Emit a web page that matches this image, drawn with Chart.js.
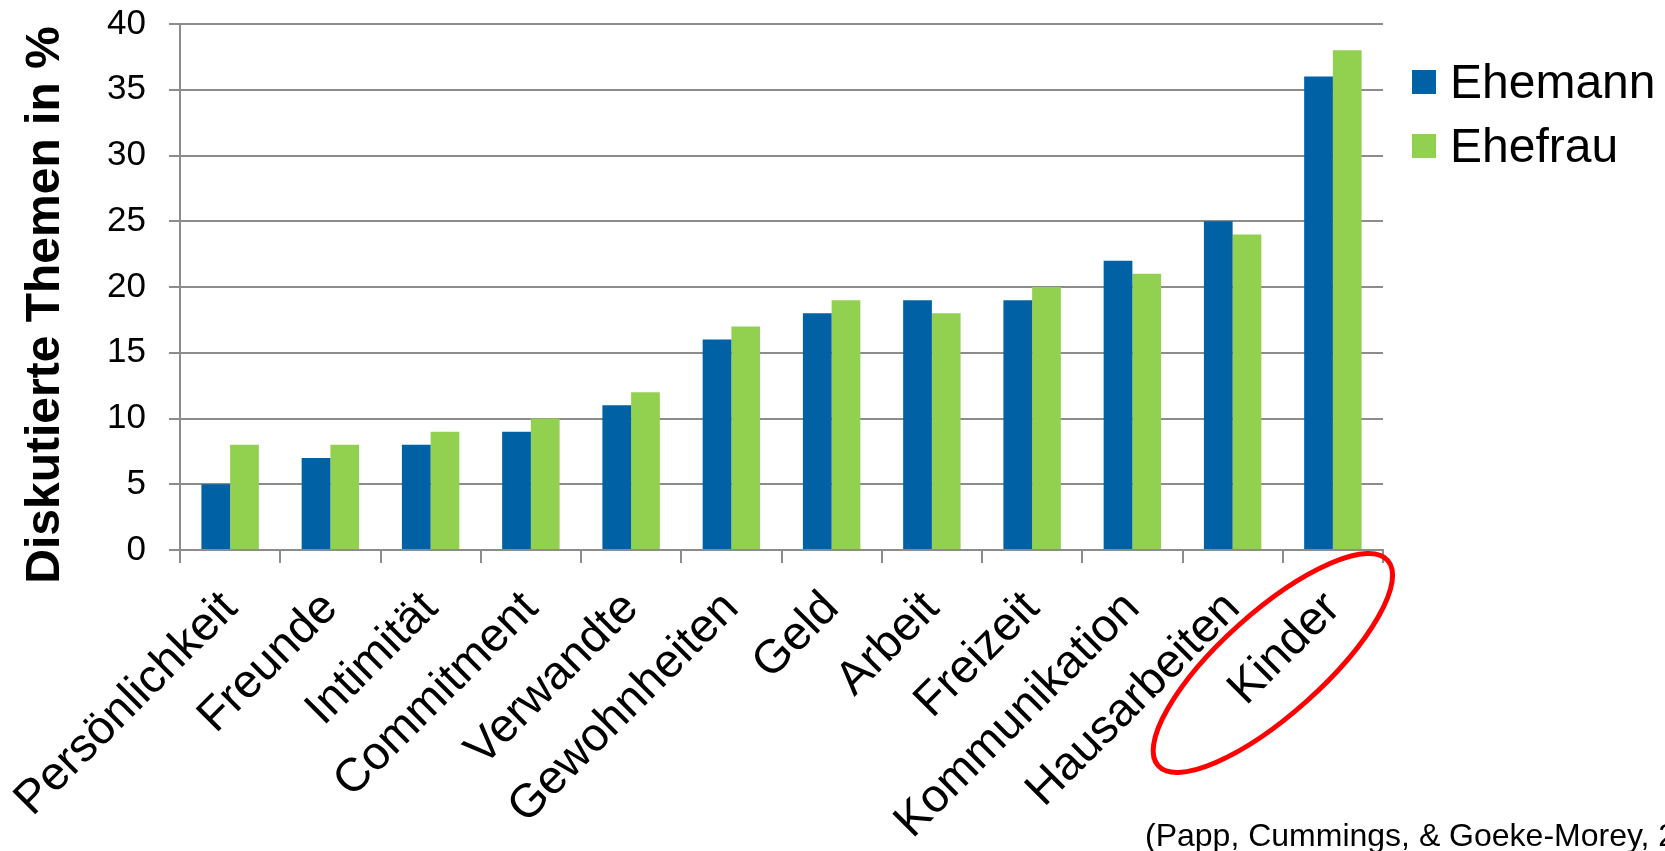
<!DOCTYPE html>
<html lang="de">
<head>
<meta charset="utf-8">
<title>Diskutierte Themen</title>
<script src="https://cdn.jsdelivr.net/npm/chart.js@4/dist/chart.umd.min.js"></script>
<style>
    html, body { margin: 0; padding: 0; background: #fff; overflow: hidden; }
    #wrap { position: relative; width: 1665px; height: 851px; }
</style>
</head>
<body>
<div id="wrap"><canvas id="topicChart" width="1665" height="851"></canvas></div>
<script>
const topics = ['Persönlichkeit', 'Freunde', 'Intimität', 'Commitment', 'Verwandte', 'Gewohnheiten',
    'Geld', 'Arbeit', 'Freizeit', 'Kommunikation', 'Hausarbeiten', 'Kinder'];
const husbandValues = [5, 7, 8, 9, 11, 16, 18, 19, 19, 22, 25, 36];
const wifeValues = [8, 8, 9, 10, 12, 17, 19, 18, 20, 21, 24, 38];
const seriesNames = ['Ehemann', 'Ehefrau'];
const yMax = 40;
const yStep = 5;
const axisTitle = 'Diskutierte Themen in %';
const sourceNote = '(Papp, Cummings, & Goeke-Morey, 2009)';
const highlightTopic = 'Kinder';

const FONT = '"Liberation Sans", Arial, Helvetica, sans-serif';
const GRID = '#8c8c8c';

Chart.defaults.font.family = FONT;
Chart.defaults.color = '#000';

// vertical axis title, drawn by hand so it can sit a bit lower than the plot centre
const yTitlePlugin = {
    id: 'yTitle',
    afterDraw(chart) {
        const { ctx, chartArea } = chart;
        ctx.save();
        ctx.translate(chartArea.left - 121, chartArea.top + 281);
        ctx.rotate(-Math.PI / 2);
        ctx.font = 'bold 48px ' + FONT;
        ctx.fillStyle = '#000';
        ctx.textAlign = 'center';
        ctx.textBaseline = 'alphabetic';
        ctx.fillText(axisTitle, 0, 0);
        ctx.restore();
    }
};

// legend to the right of the plot
const sideLegendPlugin = {
    id: 'sideLegend',
    afterDraw(chart) {
        const { ctx, chartArea } = chart;
        ctx.save();
        ctx.font = '48px ' + FONT;
        ctx.textBaseline = 'alphabetic';
        chart.data.datasets.forEach((ds, i) => {
            const cy = chartArea.top + 58 + i * 64;
            ctx.fillStyle = ds.backgroundColor;
            ctx.fillRect(chartArea.right + 29, cy - 12, 24, 24);
            ctx.fillStyle = '#000';
            ctx.fillText(ds.label, chartArea.right + 67, cy + 16);
        });
        ctx.restore();
    }
};

// red ring around the highlighted category label, plus the source note
const markPlugin = {
    id: 'marks',
    afterDraw(chart) {
        const { ctx, chartArea } = chart;
        const x = chart.scales.x.getPixelForValue(topics.indexOf(highlightTopic));
        ctx.save();
        ctx.beginPath();
        ctx.ellipse(x - 60, chartArea.bottom + 113, 154, 51, -0.73, 0, Math.PI * 2);
        ctx.strokeStyle = '#ff0000';
        ctx.lineWidth = 5;
        ctx.stroke();

        ctx.font = '32px ' + FONT;
        ctx.fillStyle = '#000';
        ctx.textAlign = 'left';
        ctx.textBaseline = 'alphabetic';
        ctx.fillText(sourceNote, 1145, 846);
        ctx.restore();
    }
};

new Chart(document.getElementById('topicChart'), {
    type: 'bar',
    data: {
        labels: topics,
        datasets: [
            {
                label: seriesNames[0],
                data: husbandValues,
                backgroundColor: '#0062a5',
                borderWidth: 0
            },
            {
                label: seriesNames[1],
                data: wifeValues,
                backgroundColor: '#92d050',
                borderWidth: 0
            }
        ]
    },
    options: {
        responsive: false,
        animation: false,
        categoryPercentage: 0.573,
        barPercentage: 1.0,
        layout: {
            padding: { top: 24, right: 282, bottom: 0, left: 0 }
        },
        plugins: {
            legend: { display: false },
            tooltip: { enabled: false }
        },
        scales: {
            x: {
                grid: {
                    drawOnChartArea: false,
                    drawTicks: true,
                    tickLength: 13,
                    color: GRID,
                    lineWidth: 2
                },
                border: { color: GRID, width: 2 },
                ticks: {
                    autoSkip: false,
                    minRotation: 45,
                    maxRotation: 45,
                    padding: 18,
                    font: { size: 47 }
                },
                afterFit(scale) {
                    scale.height = 301;
                    scale.paddingLeft = 0;
                    scale.paddingRight = 0;
                }
            },
            y: {
                min: 0,
                max: yMax,
                ticks: {
                    stepSize: yStep,
                    padding: 23,
                    font: { size: 35 }
                },
                grid: {
                    color: GRID,
                    lineWidth: 2,
                    tickLength: 11
                },
                border: { color: GRID, width: 2 },
                afterFit(scale) {
                    scale.width = 180;
                    scale.paddingTop = 0;
                    scale.paddingBottom = 0;
                }
            }
        }
    },
    plugins: [yTitlePlugin, sideLegendPlugin, markPlugin]
});
</script>
</body>
</html>
